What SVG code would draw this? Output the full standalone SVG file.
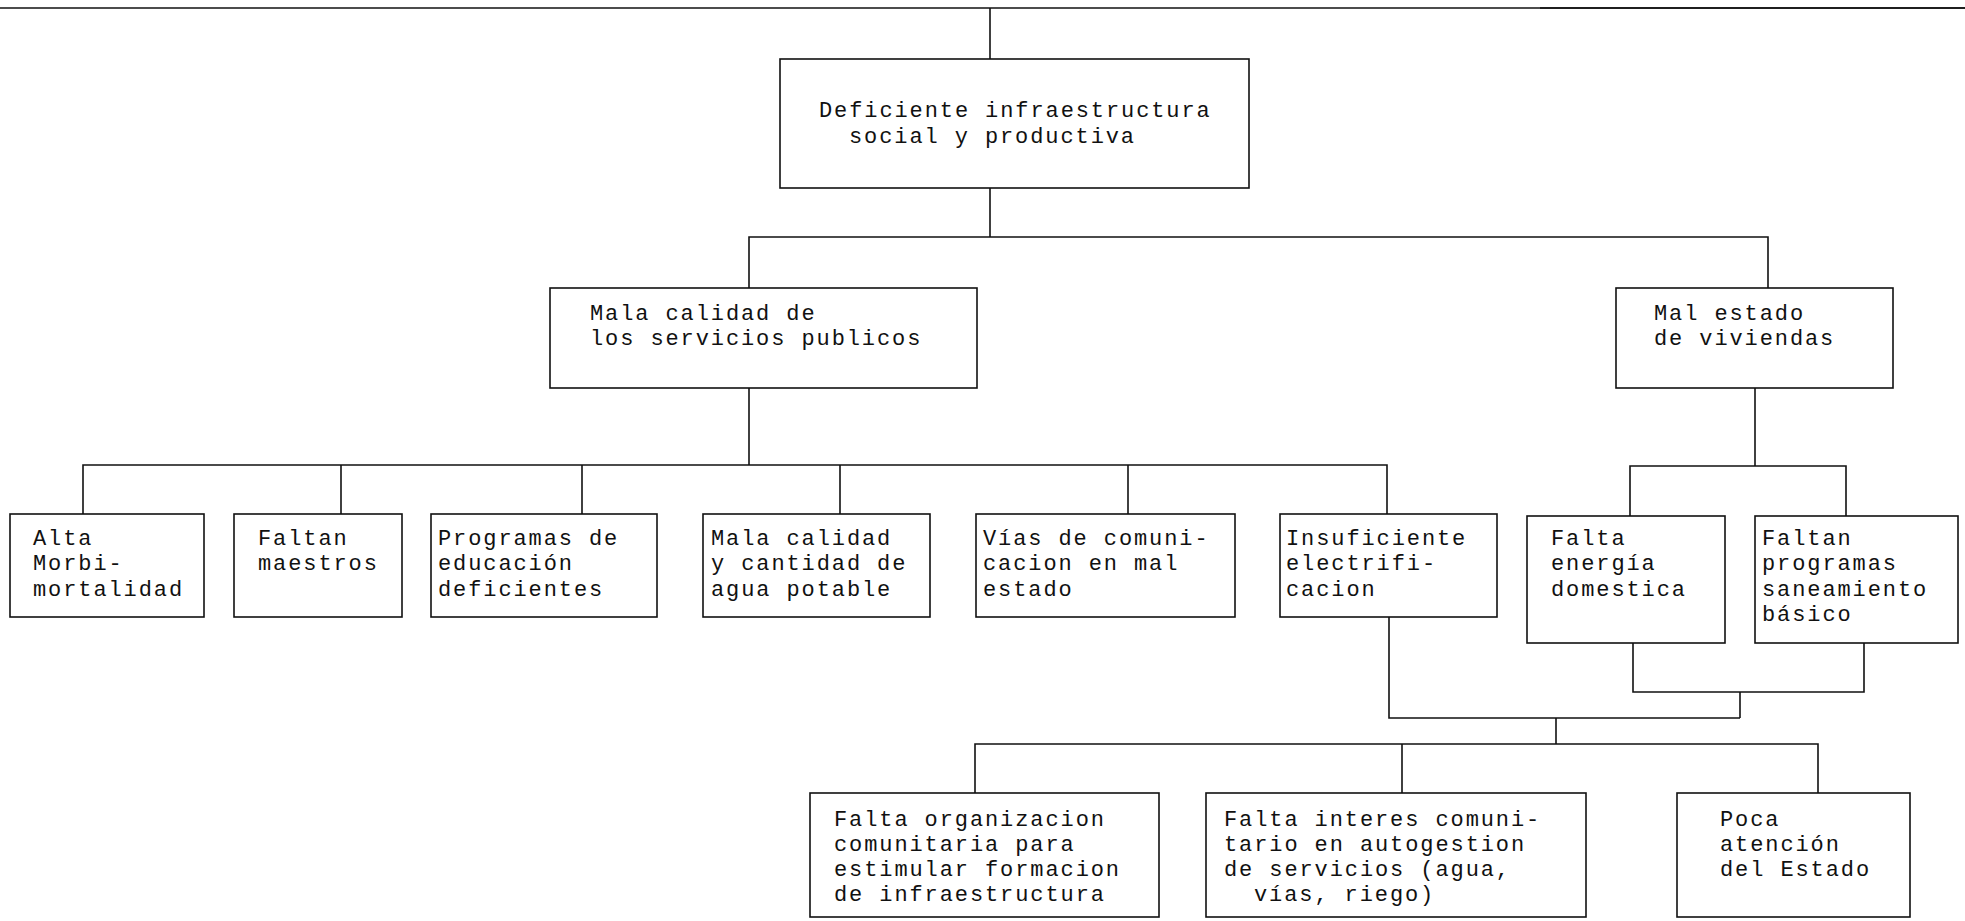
<svg xmlns="http://www.w3.org/2000/svg" width="1965" height="921" viewBox="0 0 1965 921">
<style>
.box{fill:#fff;stroke:#111;stroke-width:1.6}
.c{fill:none;stroke:#111;stroke-width:1.6}
text{font-family:"Liberation Mono","DejaVu Sans Mono",monospace;font-size:22px;letter-spacing:1.9px;fill:#111}
</style>
<rect width="1965" height="921" fill="#fff"/>
<g id="connectors">
<line class="c" x1="0" y1="8" x2="1965" y2="8" stroke-width="2"/>
<line class="c" x1="1540" y1="8" x2="1965" y2="8" stroke-width="3"/>
<polyline class="c" points="990,8 990,59"/>
<polyline class="c" points="990,188 990,237"/>
<polyline class="c" points="749,288 749,237 1768,237 1768,288"/>
<polyline class="c" points="749,388 749,465"/>
<polyline class="c" points="83,514 83,465 1387,465 1387,514"/>
<polyline class="c" points="341,465 341,514"/>
<polyline class="c" points="582,465 582,514"/>
<polyline class="c" points="840,465 840,514"/>
<polyline class="c" points="1128,465 1128,514"/>
<polyline class="c" points="1755,388 1755,466"/>
<polyline class="c" points="1630,516 1630,466 1846,466 1846,516"/>
<polyline class="c" points="1633,643 1633,692 1864,692 1864,643"/>
<polyline class="c" points="1740,692 1740,718"/>
<polyline class="c" points="1389,617 1389,718 1740,718"/>
<polyline class="c" points="1556,718 1556,744"/>
<polyline class="c" points="975,793 975,744 1818,744 1818,793"/>
<polyline class="c" points="1402,744 1402,793"/>
</g>
<g id="n-root"><rect class="box" x="780" y="59" width="469" height="129"/>
<text x="819" y="117">Deficiente infraestructura</text><text x="849" y="143">social y productiva</text></g>
<g id="n-servicios"><rect class="box" x="550" y="288" width="427" height="100"/>
<text x="590" y="320">Mala calidad de</text><text x="590" y="345">los servicios publicos</text></g>
<g id="n-viviendas"><rect class="box" x="1616" y="288" width="277" height="100"/>
<text x="1654" y="320">Mal estado</text><text x="1654" y="345">de viviendas</text></g>
<g id="n-alta"><rect class="box" x="10" y="514" width="194" height="103"/>
<text x="33" y="545">Alta</text><text x="33" y="570">Morbi-</text><text x="33" y="596">mortalidad</text></g>
<g id="n-maestros"><rect class="box" x="234" y="514" width="168" height="103"/>
<text x="258" y="545">Faltan</text><text x="258" y="570">maestros</text></g>
<g id="n-educacion"><rect class="box" x="431" y="514" width="226" height="103"/>
<text x="438" y="545">Programas de</text><text x="438" y="570">educación</text><text x="438" y="596">deficientes</text></g>
<g id="n-agua"><rect class="box" x="703" y="514" width="227" height="103"/>
<text x="711" y="545">Mala calidad</text><text x="711" y="570">y cantidad de</text><text x="711" y="596">agua potable</text></g>
<g id="n-vias"><rect class="box" x="976" y="514" width="259" height="103"/>
<text x="983" y="545">Vías de comuni-</text><text x="983" y="570">cacion en mal</text><text x="983" y="596">estado</text></g>
<g id="n-electrificacion"><rect class="box" x="1280" y="514" width="217" height="103"/>
<text x="1286" y="545">Insuficiente</text><text x="1286" y="570">electrifi-</text><text x="1286" y="596">cacion</text></g>
<g id="n-energia"><rect class="box" x="1527" y="516" width="198" height="127"/>
<text x="1551" y="545">Falta</text><text x="1551" y="570">energía</text><text x="1551" y="596">domestica</text></g>
<g id="n-saneamiento"><rect class="box" x="1755" y="516" width="203" height="127"/>
<text x="1762" y="545">Faltan</text><text x="1762" y="570">programas</text><text x="1762" y="596">saneamiento</text><text x="1762" y="621">básico</text></g>
<g id="n-organizacion"><rect class="box" x="810" y="793" width="349" height="124"/>
<text x="834" y="826">Falta organizacion</text><text x="834" y="851">comunitaria para</text><text x="834" y="876">estimular formacion</text><text x="834" y="901">de infraestructura</text></g>
<g id="n-interes"><rect class="box" x="1206" y="793" width="380" height="124"/>
<text x="1224" y="826">Falta interes comuni-</text><text x="1224" y="851">tario en autogestion</text><text x="1224" y="876">de servicios (agua,</text><text x="1254" y="901">vías, riego)</text></g>
<g id="n-estado"><rect class="box" x="1677" y="793" width="233" height="124"/>
<text x="1720" y="826">Poca</text><text x="1720" y="851">atención</text><text x="1720" y="876">del Estado</text></g>
</svg>
